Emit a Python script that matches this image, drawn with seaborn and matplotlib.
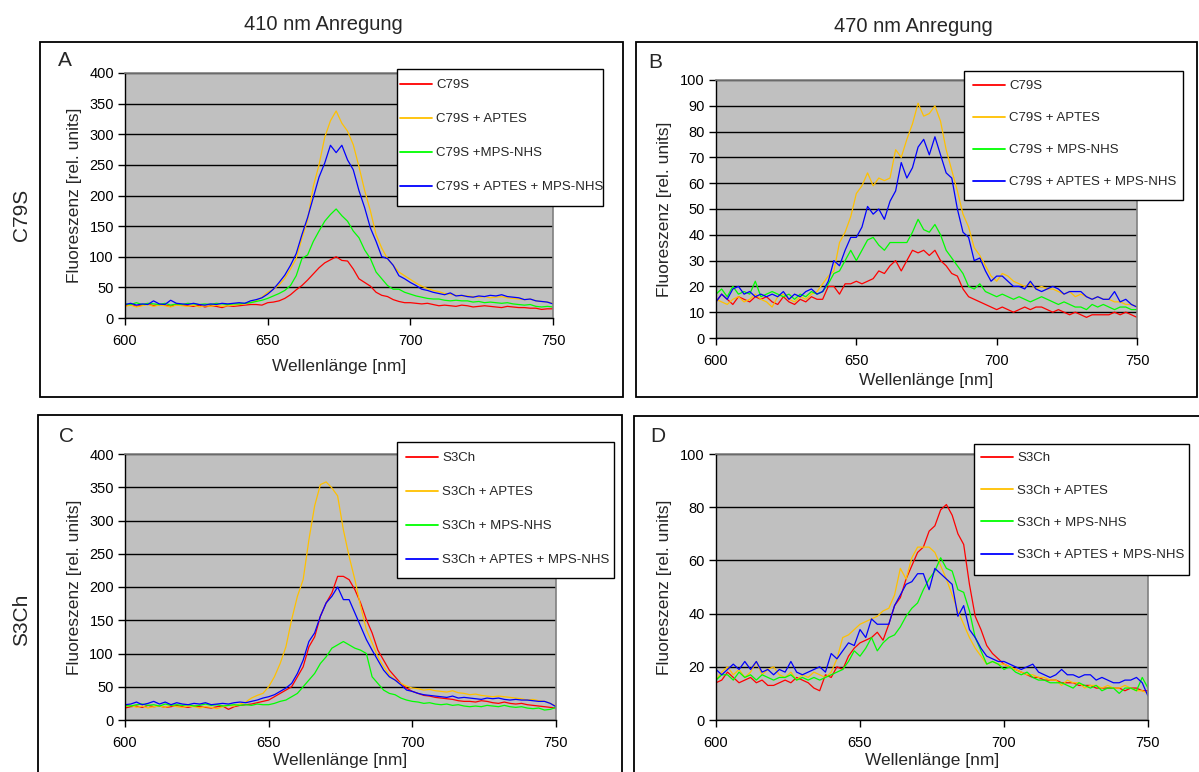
import numpy as np
import pandas as pd
import matplotlib
matplotlib.use("Agg")
import matplotlib.pyplot as plt
from matplotlib.patches import Rectangle
import seaborn as sns

# Emission wavelengths (nm), 2 nm steps
wavelength = np.arange(600, 751, 2)

# --- C79S, 410 nm excitation ---
c79s_410_plain = [20, 22, 19, 21, 23, 20, 22, 21, 19, 22,
                  21, 20, 19, 21, 18, 20, 19, 17, 20, 19,
                  20, 21, 22, 22, 21, 25, 26, 28, 32, 38,
                  46, 53, 62, 72, 82, 90, 95, 100, 94, 93,
                  80, 64, 58, 52, 42, 37, 35, 30, 27, 25,
                  25, 24, 23, 24, 22, 20, 21, 20, 19, 21,
                  20, 18, 19, 20, 19, 18, 17, 19, 18, 17,
                  17, 16, 16, 14, 15, 15]
c79s_410_aptes = [19, 21, 18, 20, 22, 19, 21, 20, 18, 21,
                  20, 19, 21, 18, 20, 19, 21, 19, 20, 21,
                  22, 23, 25, 28, 34, 42, 47, 54, 65, 80,
                  97, 130, 160, 215, 250, 295, 322, 338, 318, 305,
                  283, 247, 208, 175, 136, 114, 97, 86, 75, 69,
                  63, 57, 52, 48, 45, 43, 40, 39, 37, 36,
                  36, 35, 34, 35, 33, 34, 35, 33, 32, 31,
                  30, 31, 28, 27, 26, 24]
c79s_410_mps = [23, 22, 25, 22, 24, 23, 22, 24, 21, 23,
                22, 24, 23, 22, 23, 22, 24, 23, 22, 23,
                23, 24, 25, 27, 29, 32, 36, 40, 45, 53,
                69, 97, 103, 125, 142, 158, 169, 178, 167, 158,
                142, 131, 111, 97, 75, 64, 53, 47, 47, 42,
                39, 36, 34, 32, 31, 31, 29, 28, 29, 28,
                28, 26, 27, 25, 26, 25, 24, 25, 23, 22,
                21, 22, 19, 18, 19, 18]
c79s_410_aptes_mps = [22, 24, 21, 23, 22, 28, 23, 22, 29, 24,
                      23, 22, 24, 22, 21, 23, 22, 24, 23, 24,
                      25, 24, 28, 30, 33, 39, 47, 58, 70, 86,
                      105, 136, 164, 197, 230, 253, 282, 270, 282, 258,
                      242, 208, 180, 147, 125, 100, 97, 86, 69, 64,
                      58, 53, 47, 45, 42, 40, 38, 41, 36, 37,
                      35, 34, 36, 35, 37, 36, 38, 35, 34, 33,
                      30, 31, 28, 27, 26, 23]

# --- C79S, 470 nm excitation ---
c79s_470_plain = [14, 17, 15, 13, 16, 15, 14, 16, 15, 16,
                  14, 13, 16, 14, 13, 15, 14, 16, 15, 15,
                  20, 20, 17, 21, 21, 22, 21, 22, 23, 26,
                  25, 28, 30, 26, 30, 34, 33, 34, 32, 34,
                  30, 28, 25, 24, 19, 16, 15, 14, 13, 12,
                  11, 12, 11, 10, 11, 12, 11, 12, 12, 11,
                  10, 11, 10, 9, 10, 9, 8, 9, 9, 9,
                  9, 10, 9, 10, 9, 8]
c79s_470_aptes = [15, 14, 13, 15, 16, 14, 15, 17, 15, 14,
                  12, 16, 17, 15, 14, 16, 15, 17, 18, 21,
                  24, 26, 37, 41, 47, 56, 59, 64, 59, 62,
                  61, 62, 73, 70, 77, 83, 91, 86, 87, 90,
                  84, 73, 65, 57, 48, 43, 35, 32, 28, 24,
                  22, 25, 24, 22, 21, 20, 21, 19, 20, 19,
                  19, 18, 17, 18, 16, 17, 16, 15, 16, 15,
                  15, 14, 14, 13, 13, 12]
c79s_470_mps = [17, 19, 16, 20, 17, 18, 17, 22, 16, 17,
                18, 17, 16, 17, 15, 17, 16, 18, 17, 18,
                21, 25, 26, 30, 34, 30, 34, 38, 39, 36,
                34, 37, 37, 37, 37, 41, 46, 42, 41, 44,
                40, 34, 31, 28, 25, 20, 19, 21, 18, 17,
                16, 17, 16, 15, 16, 15, 14, 15, 16, 15,
                14, 13, 14, 13, 12, 12, 11, 13, 12, 13,
                12, 11, 12, 12, 11, 11]
c79s_470_aptes_mps = [14, 17, 15, 19, 20, 17, 18, 16, 17, 16,
                      17, 16, 18, 15, 17, 16, 18, 19, 17, 18,
                      22, 30, 28, 34, 39, 39, 43, 51, 48, 50,
                      46, 53, 57, 68, 62, 66, 74, 77, 71, 78,
                      71, 64, 62, 50, 41, 39, 30, 31, 26, 22,
                      24, 24, 22, 20, 20, 19, 22, 19, 18, 19,
                      20, 19, 17, 18, 18, 18, 16, 15, 16, 15,
                      15, 18, 14, 15, 13, 12]

# --- S3Ch, 410 nm excitation ---
s3ch_410_plain = [18, 20, 21, 19, 22, 20, 21, 19, 20, 22,
                  20, 19, 21, 20, 19, 18, 20, 21, 16, 20,
                  22, 23, 24, 26, 28, 30, 35, 40, 45, 50,
                  65, 80, 110, 125, 156, 176, 191, 216, 216, 211,
                  196, 176, 151, 131, 105, 90, 75, 65, 55, 48,
                  43, 40, 37, 36, 34, 33, 32, 31, 29, 28,
                  28, 27, 29, 28, 26, 25, 27, 25, 24, 25,
                  23, 22, 21, 20, 19, 18]
s3ch_410_aptes = [20, 22, 19, 21, 18, 20, 21, 19, 22, 20,
                  19, 21, 20, 18, 20, 19, 17, 20, 22, 21,
                  24, 27, 33, 37, 40, 50, 65, 85, 110, 151,
                  186, 211, 271, 322, 354, 358, 349, 337, 286, 246,
                  211, 171, 136, 116, 95, 80, 68, 60, 55, 51,
                  48, 47, 45, 46, 44, 43, 42, 44, 41, 40,
                  38, 39, 37, 36, 35, 36, 35, 34, 33, 32,
                  30, 31, 29, 28, 25, 21]
s3ch_410_mps = [22, 21, 23, 24, 22, 23, 21, 24, 22, 23,
                22, 23, 21, 22, 24, 22, 23, 21, 22, 23,
                22, 23, 22, 24, 23, 23, 25, 28, 30, 35,
                40, 50, 60, 70, 85, 95, 108, 113, 118, 113,
                108, 105, 100, 65, 55, 45, 40, 38, 33, 30,
                28, 27, 25, 26, 24, 23, 24, 22, 23, 21,
                20, 21, 20, 22, 21, 20, 22, 20, 19, 20,
                18, 17, 18, 15, 16, 19]
s3ch_410_aptes_mps = [23, 24, 27, 23, 25, 28, 24, 27, 23, 26,
                      24, 23, 25, 24, 26, 23, 24, 25, 24, 26,
                      27, 26, 28, 30, 33, 35, 38, 43, 48, 55,
                      70, 90, 118, 131, 156, 176, 186, 200, 181, 181,
                      161, 141, 121, 105, 90, 75, 65, 60, 53, 45,
                      43, 40, 38, 37, 36, 35, 34, 36, 33, 34,
                      33, 32, 31, 33, 32, 33, 31, 30, 31, 30,
                      30, 29, 28, 28, 25, 20]

# --- S3Ch, 470 nm excitation ---
s3ch_470_plain = [14, 15, 18, 16, 14, 15, 16, 14, 15, 13,
                  13, 14, 15, 14, 16, 15, 14, 12, 11, 17,
                  16, 20, 19, 24, 27, 29, 30, 31, 33, 30,
                  36, 43, 46, 53, 58, 63, 65, 71, 73, 79,
                  81, 77, 70, 66, 51, 39, 34, 28, 25, 23,
                  21, 20, 19, 18, 17, 16, 16, 15, 15, 15,
                  14, 14, 14, 13, 13, 13, 12, 12, 12, 12,
                  12, 11, 12, 12, 11, 11]
s3ch_470_aptes = [15, 18, 20, 17, 19, 16, 18, 22, 17, 19,
                  20, 17, 16, 18, 15, 17, 16, 18, 17, 16,
                  18, 23, 31, 32, 34, 36, 37, 38, 39, 41,
                  42, 47, 57, 53, 61, 65, 65, 65, 63, 58,
                  53, 47, 41, 36, 31, 27, 24, 21, 22, 21,
                  21, 20, 19, 18, 17, 17, 16, 16, 15, 15,
                  13, 15, 14, 14, 12, 13, 13, 12, 13, 12,
                  12, 13, 12, 11, 11, 10]
s3ch_470_mps = [15, 17, 17, 15, 18, 16, 17, 15, 17, 16,
                15, 16, 16, 17, 15, 16, 15, 16, 15, 16,
                17, 18, 19, 22, 26, 24, 27, 31, 26, 29,
                31, 32, 35, 39, 42, 44, 49, 53, 56, 61,
                57, 56, 49, 48, 41, 31, 26, 21, 22, 21,
                19, 20, 18, 17, 18, 16, 15, 15, 14, 14,
                14, 13, 12, 14, 13, 12, 13, 11, 12, 12,
                10, 12, 12, 11, 16, 12]
s3ch_470_aptes_mps = [19, 17, 19, 21, 19, 22, 19, 22, 18, 19,
                      17, 19, 18, 22, 18, 17, 18, 19, 20, 18,
                      25, 23, 26, 29, 28, 34, 31, 38, 36, 36,
                      36, 43, 47, 51, 52, 55, 55, 49, 57, 55,
                      53, 51, 39, 43, 34, 31, 27, 24, 23, 22,
                      22, 21, 20, 19, 20, 21, 18, 17, 16, 17,
                      19, 17, 17, 16, 17, 17, 15, 16, 15, 14,
                      14, 15, 15, 16, 14, 9]

labels_c79s_410 = ["C79S", "C79S + APTES", "C79S +MPS-NHS", "C79S + APTES + MPS-NHS"]
labels_c79s_470 = ["C79S", "C79S + APTES", "C79S + MPS-NHS", "C79S + APTES + MPS-NHS"]
labels_s3ch = ["S3Ch", "S3Ch + APTES", "S3Ch + MPS-NHS", "S3Ch + APTES + MPS-NHS"]

x_ticks = [600, 650, 700, 750]
series_colors = ["#FF0000", "#FFC000", "#00FF00", "#0000FF"]

sns.set_theme(style="white")
plt.rcParams["font.family"] = ["Liberation Sans", "DejaVu Sans"]

W, H = 1199, 772
fig = plt.figure(figsize=(W / 100, H / 100), dpi=100)
fig.patch.set_facecolor("white")

LEGEND_FS = 9.5
LEGEND_PX = LEGEND_FS * 100 / 72


def frac_rect(x0, y0, x1, y1):
    """Pixel box (top-left origin) -> figure fraction rect."""
    return [x0 / W, 1 - y1 / H, (x1 - x0) / W, (y1 - y0) / H]


def draw_panel(rect, series, labels, ymax, ystep, legend_box, legend_start,
               row_pitch, ylab_x, xlab_y):
    ax = fig.add_axes(frac_rect(*rect))
    frame = pd.DataFrame({
        "nm": np.tile(wavelength, len(series)),
        "value": np.concatenate([np.asarray(s, float) for s in series]),
        "sample": np.repeat(labels, len(wavelength)),
    })
    sns.lineplot(data=frame, x="nm", y="value", hue="sample", hue_order=labels,
                 palette=series_colors, linewidth=0.9, legend=False, ax=ax,
                 errorbar=None, sort=False)
    ax.set_facecolor("#C0C0C0")
    ax.set_xlim(600, 750)
    ax.set_ylim(0, ymax)
    ax.set_xticks(x_ticks)
    ax.set_yticks(np.arange(0, ymax + 0.1, ystep))
    ax.set_axisbelow(True)
    ax.yaxis.grid(True, color="black", linewidth=1.0)
    ax.xaxis.grid(False)
    for side in ("left", "bottom"):
        ax.spines[side].set_color("black")
        ax.spines[side].set_linewidth(1.0)
    for side in ("top", "right"):
        ax.spines[side].set_color("#808080")
        ax.spines[side].set_linewidth(1.2)
    ax.tick_params(axis="both", which="major", direction="out", length=5,
                   width=1, color="black", labelsize=10.5,
                   bottom=True, left=True, labelcolor="black")
    ax.tick_params(axis="y", pad=3)
    ax.tick_params(axis="x", pad=6.5)
    ax.set_xlabel("")
    ax.set_ylabel("")

    # axis titles
    x0, y0, x1, y1 = rect
    fig.text(ylab_x / W, 1 - ((y0 + y1) / 2) / H, "Fluoreszenz [rel. units]",
             rotation=90, ha="center", va="center", fontsize=12.5)
    fig.text(((x0 + x1) / 2) / W, 1 - xlab_y / H, "Wellenlänge [nm]",
             ha="center", va="center", fontsize=12.5)

    # legend: white box with black outline, entries laid on top
    lb = frac_rect(*legend_box)
    fig.add_artist(Rectangle((lb[0], lb[1]), lb[2], lb[3], transform=fig.transFigure,
                             facecolor="white", edgecolor="black", linewidth=1.0,
                             zorder=3))
    spacing = (row_pitch - 11.9) / LEGEND_PX
    leg = fig.legend(ax.lines[:len(labels)], labels, loc="upper left",
                     bbox_to_anchor=(legend_start[0] / W, 1 - legend_start[1] / H),
                     bbox_transform=fig.transFigure, frameon=False,
                     fontsize=LEGEND_FS, labelspacing=spacing,
                     handlelength=32 / LEGEND_PX, handletextpad=4 / LEGEND_PX,
                     borderpad=0, borderaxespad=0)
    leg.set_zorder(4)
    for line in leg.get_lines():
        line.set_linewidth(1.3)
    return ax


# panel frames (chart areas)
for box in [(40, 42, 623, 397), (636, 42, 1197, 397),
            (38, 415, 622, 776), (634, 416, 1203, 776)]:
    bx = frac_rect(*box)
    fig.add_artist(Rectangle((bx[0], bx[1]), bx[2], bx[3], transform=fig.transFigure,
                             fill=False, edgecolor="black", linewidth=1.3))

draw_panel((125, 73, 553, 318),
           [c79s_410_plain, c79s_410_aptes, c79s_410_mps, c79s_410_aptes_mps],
           labels_c79s_410, 400, 50, (397, 69, 603, 206), (400, 79), 33.7, 75, 366)
draw_panel((716, 80, 1137, 338),
           [c79s_470_plain, c79s_470_aptes, c79s_470_mps, c79s_470_aptes_mps],
           labels_c79s_470, 100, 10, (964, 71, 1183, 200), (973, 80), 31.7, 665, 381)
draw_panel((125, 454, 556, 720),
           [s3ch_410_plain, s3ch_410_aptes, s3ch_410_mps, s3ch_410_aptes_mps],
           labels_s3ch, 400, 50, (397, 442, 614, 578), (406, 452), 33.7, 75, 760)
draw_panel((716, 454, 1148, 720),
           [s3ch_470_plain, s3ch_470_aptes, s3ch_470_mps, s3ch_470_aptes_mps],
           labels_s3ch, 100, 20, (974, 444, 1189, 575), (981, 452), 32.0, 664, 760)

# column headings, row headings, panel letters
fig.text(323 / W, 1 - 25 / H, "410 nm Anregung", ha="center", va="center", fontsize=14.5)
fig.text(913 / W, 1 - 27 / H, "470 nm Anregung", ha="center", va="center", fontsize=14.5)
fig.text(22 / W, 1 - 215 / H, "C79S", rotation=90, ha="center", va="center", fontsize=15)
fig.text(22 / W, 1 - 620 / H, "S3Ch", rotation=90, ha="center", va="center", fontsize=15)
for letter, (lx, ly) in {"A": (65, 60), "B": (655, 62), "C": (67, 436), "D": (658, 437)}.items():
    fig.text(lx / W, 1 - ly / H, letter, ha="center", va="center", fontsize=15)

fig.savefig("out.png", dpi=100, facecolor="white")
